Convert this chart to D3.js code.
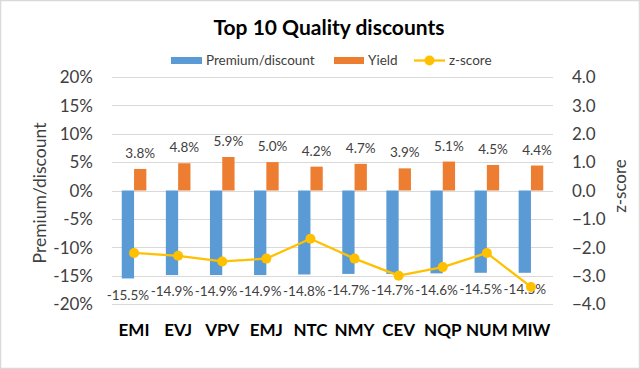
<!DOCTYPE html>
<html><head><meta charset="utf-8">
<script src="https://cdn.jsdelivr.net/npm/d3@7/dist/d3.min.js"></script>
<style>
html,body{margin:0;padding:0;background:#fff;}
svg{display:block;font-family:Lato,"Open Sans",sans-serif;}
</style></head>
<body><svg id="c" width="640" height="369"></svg>
<script>
const categories = ["EMI","EVJ","VPV","EMJ","NTC","NMY","CEV","NQP","NUM","MIW"];
const premium = [-15.5,-14.9,-14.9,-14.9,-14.8,-14.7,-14.7,-14.6,-14.5,-14.5];
const yieldVals = [3.8,4.8,5.9,5.0,4.2,4.7,3.9,5.1,4.5,4.4];
const zscore = [-2.2,-2.3,-2.5,-2.4,-1.7,-2.4,-3.0,-2.7,-2.2,-3.4];
const leftTicks = [20,15,10,5,0,-5,-10,-15,-20];
const rightTicks = [4,3,2,1,0,-1,-2,-3,-4];
const seriesNames = ["Premium/discount","Yield","z-score"];
const colors = {blue:"#5b9bd5", orange:"#ed7d31", yellow:"#ffc000", grid:"#d9d9d9", text:"#404040"};

const svg = d3.select("#c");
svg.append("rect").attr("x",0.5).attr("y",0.5).attr("width",639).attr("height",368)
  .attr("fill","#fff").attr("stroke","#d9d9d9").attr("stroke-width",1.5);

const L=112, R=553, T=77, B=304;
const x = d3.scaleBand().domain(categories).range([L,R]).paddingInner(0).paddingOuter(0);
const yL = d3.scaleLinear().domain([-20,20]).range([B,T]);
const yR = d3.scaleLinear().domain([-4,4]).range([B,T]);
const bw = 12.3;

// grid
svg.append("g").selectAll("line").data(leftTicks).join("line")
  .attr("x1",L).attr("x2",R).attr("y1",d=>Math.round(yL(d))+0.5).attr("y2",d=>Math.round(yL(d))+0.5)
  .attr("stroke",colors.grid).attr("stroke-width",1);

// left axis
const axL = d3.axisLeft(yL).tickValues(leftTicks).tickFormat(d=>d+"%").tickSize(0).tickPadding(0);
const gL = svg.append("g").attr("transform","translate(93,0)").call(axL);
gL.select(".domain").remove();
gL.selectAll("text").attr("font-size",17).attr("fill",colors.text).attr("font-family","Lato").attr("dy","0.34em");

const axR = d3.axisRight(yR).tickValues(rightTicks).tickFormat(d3.format(".1f")).tickSize(0).tickPadding(0);
const gR = svg.append("g").attr("transform","translate(572,0)").call(axR);
gR.select(".domain").remove();
gR.selectAll("text").attr("font-size",17).attr("fill",colors.text).attr("font-family","Lato").attr("dy","0.34em");

// x labels
svg.append("g").selectAll("text").data(categories).join("text")
  .attr("x",d=>x(d)+x.bandwidth()/2).attr("y",330).attr("dy","0.35em")
  .attr("text-anchor","middle").attr("font-size",17).attr("font-weight","bold").attr("fill","#000")
  .text(d=>d);

// bars
const data = categories.map((c,i)=>({c,p:premium[i],y:yieldVals[i],z:zscore[i]}));
svg.append("g").selectAll("rect").data(data).join("rect")
  .attr("x",d=>x(d.c)+x.bandwidth()/2-bw).attr("width",bw)
  .attr("y",d=>yL(Math.max(0,d.p))).attr("height",d=>Math.abs(yL(d.p)-yL(0)))
  .attr("fill",colors.blue);
svg.append("g").selectAll("rect").data(data).join("rect")
  .attr("x",d=>x(d.c)+x.bandwidth()/2).attr("width",bw)
  .attr("y",d=>yL(d.y)).attr("height",d=>yL(0)-yL(d.y))
  .attr("fill",colors.orange);

// labels
svg.append("g").selectAll("text").data(data).join("text")
  .attr("x",d=>x(d.c)+x.bandwidth()/2+bw/2).attr("y",d=>yL(d.y)-11)
  .attr("text-anchor","middle").attr("font-size",13.5).attr("fill",colors.text)
  .text(d=>d.y.toFixed(1)+"%");
svg.append("g").selectAll("text").data(data).join("text")
  .attr("x",d=>x(d.c)+x.bandwidth()/2-bw/2).attr("y",d=>yL(d.p)+16.5).attr("dy","0.35em")
  .attr("text-anchor","middle").attr("font-size",13.5).attr("fill",colors.text)
  .text(d=>d.p.toFixed(1)+"%");

// line
const line = d3.line().x(d=>x(d.c)+x.bandwidth()/2).y(d=>yR(d.z));
svg.append("path").datum(data).attr("d",line).attr("fill","none")
  .attr("stroke",colors.yellow).attr("stroke-width",2.25).attr("stroke-linejoin","round");
svg.append("g").selectAll("circle").data(data).join("circle")
  .attr("cx",d=>x(d.c)+x.bandwidth()/2).attr("cy",d=>yR(d.z)).attr("r",5)
  .attr("fill",colors.yellow);

// titles
svg.append("text").attr("x",329).attr("y",35).attr("text-anchor","middle")
  .attr("font-size",21).attr("font-weight","bold").attr("fill","#000").text("Top 10 Quality discounts");
svg.append("text").attr("transform","translate(40,193) rotate(-90)").attr("text-anchor","middle").attr("dy","0.35em")
  .attr("font-size",17.5).attr("fill",colors.text).text("Premium/discount");
svg.append("text").attr("transform","translate(620,186) rotate(-90)").attr("text-anchor","middle").attr("dy","0.35em")
  .attr("font-size",17).attr("fill",colors.text).text("z-score");

// legend
const lg = svg.append("g").attr("font-size",13.5).attr("fill",colors.text);
lg.append("rect").attr("x",171).attr("y",57).attr("width",31).attr("height",7).attr("fill",colors.blue);
lg.append("text").attr("x",206).attr("y",60.5).attr("dy","0.35em").text(seriesNames[0]);
lg.append("rect").attr("x",334).attr("y",57).attr("width",30).attr("height",7).attr("fill",colors.orange);
lg.append("text").attr("x",368).attr("y",60.5).attr("dy","0.35em").text(seriesNames[1]);
lg.append("line").attr("x1",414).attr("x2",445).attr("y1",60.5).attr("y2",60.5).attr("stroke",colors.yellow).attr("stroke-width",2.25);
lg.append("circle").attr("cx",429.5).attr("cy",60.5).attr("r",5).attr("fill",colors.yellow);
lg.append("text").attr("x",449).attr("y",60.5).attr("dy","0.35em").text(seriesNames[2]);
</script></body></html>
